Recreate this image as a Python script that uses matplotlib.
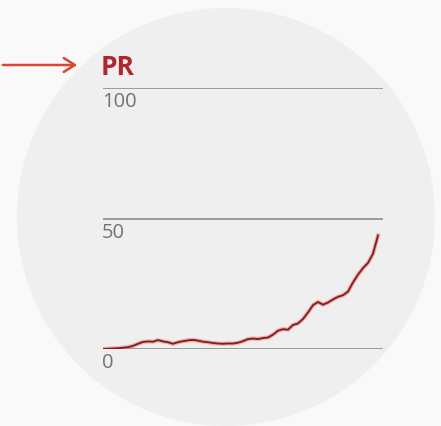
import matplotlib.pyplot as plt
import matplotlib.patheffects as pe
from matplotlib.patches import Circle

# --- DATA ---
pr_values = [0.0, 0.1, 0.2, 0.3, 0.5, 0.7, 1.2, 2.0, 2.7, 2.9,
             2.8, 3.4, 2.9, 2.6, 2.0, 2.6, 3.0, 3.3, 3.5, 3.2,
             2.8, 2.6, 2.3, 2.1, 2.0, 2.1, 2.1, 2.4, 3.0, 3.8,
             4.0, 3.8, 4.2, 4.4, 5.5, 7.0, 7.6, 7.4, 9.2, 9.8,
             11.5, 14.0, 16.8, 18.0, 17.0, 17.8, 19.0, 20.0, 20.6, 22.0,
             25.5, 28.5, 31.0, 33.0, 36.5, 43.5]
y_ticks = [0, 50, 100]
y_tick_labels = ["0", "50", "100"]
title = "PR"

W, H = 441, 427
fig = plt.figure(figsize=(W / 100, H / 100), dpi=100)
fig.patch.set_facecolor("#f9f9f9")

# --- BACKGROUND CIRCLE (pixel units via inches) ---
circ = Circle((226 / 100, (H - 218) / 100), 209 / 100,
              transform=fig.dpi_scale_trans,
              facecolor="#efefef", edgecolor="none", zorder=0)
fig.add_artist(circ)

# --- MAIN AXES ---
ax = fig.add_axes([103 / W, (H - 350) / H, 280 / W, 261 / H])
ax.set_facecolor("none")
n = len(pr_values)
ax.set_xlim(0, (n - 1) * 280 / 275)
ax.set_ylim(0, 100)
ax.axis("off")

for t, lab in zip(y_ticks, y_tick_labels):
    ax.axhline(t, color="#9a9a9a", lw=1.4, zorder=1)
    ax.text(-0.2, t - 1.2, lab, ha="left", va="top", fontsize=14.5,
            color="#737373", family="Open Sans")

ax.plot(range(n), pr_values, color="#86191b", lw=1.3, zorder=3,
        solid_joinstyle="miter",
        path_effects=[pe.Stroke(linewidth=3.0, foreground="#e07a7a", alpha=0.55),
                      pe.Normal()])

# --- TITLE + ARROW ---
fig.text(101 / W, (H - 75) / H, title, ha="left", va="baseline",
         fontsize=19, fontweight="bold", color="#b0262b", family="Open Sans")

ax2 = fig.add_axes([0, 0, 1, 1])
ax2.set_xlim(0, W)
ax2.set_ylim(H, 0)
ax2.axis("off")
ax2.annotate("", xy=(80, 66), xytext=(0, 66),
             arrowprops=dict(arrowstyle="->,head_length=0.8,head_width=0.5",
                             color="#d9472f", lw=1.8))

plt.savefig("out.png", dpi=100, facecolor=fig.get_facecolor())
